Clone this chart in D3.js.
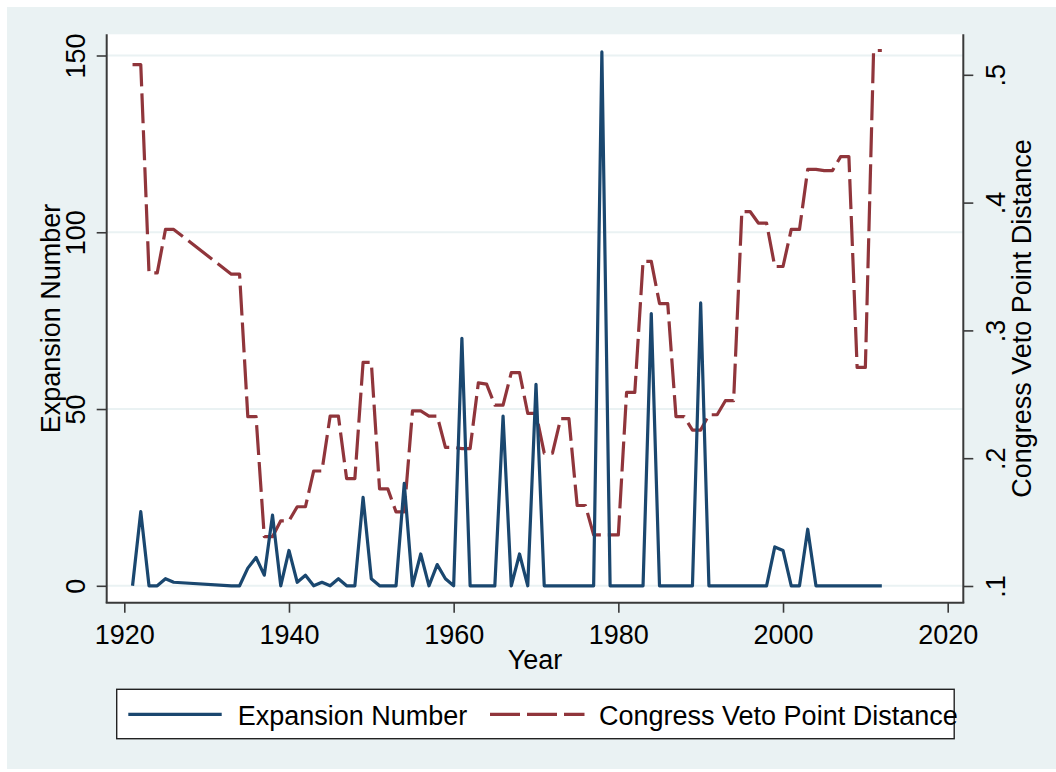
<!DOCTYPE html>
<html>
<head>
<meta charset="utf-8">
<script src="https://cdn.jsdelivr.net/npm/d3@7"></script>
<style>
  body { margin: 0; background: #fff; }
  svg text { font-family: "Liberation Sans", Arial, sans-serif; font-size: 27px; fill: #000; }
</style>
</head>
<body>
<div class="chart"></div>
<script>
// Data
const years = [1921, 1922, 1923, 1924, 1925, 1926,
  1933, 1934, 1935, 1936, 1937, 1938, 1939, 1940,
  1941, 1942, 1943, 1944, 1945, 1946, 1947, 1948, 1949, 1950,
  1951, 1952, 1953, 1954, 1955, 1956, 1957, 1958, 1959, 1960,
  1961, 1962, 1963, 1964, 1965, 1966, 1967, 1968, 1969, 1970,
  1971, 1972, 1973, 1974, 1975, 1976, 1977, 1978, 1979, 1980,
  1981, 1982, 1983, 1984, 1985, 1986, 1987, 1988, 1989, 1990,
  1991, 1992, 1993, 1994, 1995, 1996, 1997, 1998, 1999, 2000,
  2001, 2002, 2003, 2004, 2005, 2006, 2007, 2008, 2009, 2010,
  2011, 2012];

const expansionNumber = [0, 21, 0, 0, 2, 1,
  0, 0, 5, 8, 3, 20, 0, 10,
  1, 3, 0, 1, 0, 2, 0, 0, 25, 2,
  0, 0, 0, 29, 0, 9, 0, 6, 2, 0,
  70, 0, 0, 0, 0, 48, 0, 9, 0, 57,
  0, 0, 0, 0, 0, 0, 0, 151, 0, 0,
  0, 0, 0, 77, 0, 0, 0, 0, 0, 80,
  0, 0, 0, 0, 0, 0, 0, 0, 11, 10,
  0, 0, 16, 0, 0, 0, 0, 0, 0, 0,
  0, 0];

const vetoDistance = [.508, .508, .345, .345, .379, .379,
  .344, .344, .2325, .2325, .1386, .1386, .151, .151,
  .162, .162, .190, .190, .233, .233, .184, .184, .275, .275,
  .176, .176, .158, .158, .237, .237, .233, .233, .2085, .2085,
  .2075, .2075, .259, .258, .2415, .2415, .267, .267, .235, .235,
  .204, .204, .231, .231, .163, .163, .140, .140, .140, .140,
  .2515, .2515, .354, .354, .321, .321, .2325, .2325, .222, .222,
  .234, .234, .245, .245, .393, .393, .384, .384, .350, .350,
  .379, .379, .426, .426, .425, .425, .436, .436, .271, .271,
  .519, .519];

const xTicks = [1920, 1940, 1960, 1980, 2000, 2020];
const leftTicks = [0, 50, 100, 150];
const rightTicks = [.1, .2, .3, .4, .5];
const seriesNames = ["Expansion Number", "Congress Veto Point Distance"];

// Layout
const width = 1056, height = 772;
const plot = {left: 106.7, right: 963.3, top: 34.3, bottom: 602.7};
const blue = "#1a476f", red = "#90353b", bg = "#eaf2f3", axisColor = "#3a3a3a";
const lineWidth = 3.2;
const dash = "30,7";

const svg = d3.select(".chart").append("svg")
  .attr("width", width)
  .attr("height", height);

svg.append("rect")
  .attr("x", 7).attr("y", 7)
  .attr("width", width - 7).attr("height", height - 10)
  .attr("fill", bg);

svg.append("rect")
  .attr("x", plot.left).attr("y", plot.top)
  .attr("width", plot.right - plot.left).attr("height", plot.bottom - plot.top)
  .attr("fill", "#fff");

// Scales
const xScale = d3.scaleLinear().domain([1920, 2020]).range([124.3, 947.7]);
const yLeft = d3.scaleLinear().domain([0, 150]).range([585.8, 55.5]);
const yRight = d3.scaleLinear().domain([.1, .5]).range([586, 74.8]);

function placed(x, y, rot) {
  return `translate(${x},${y})` + (rot ? ` rotate(${rot})` : "");
}

// Gridlines
svg.append("g").selectAll("line").data(leftTicks).enter()
  .append("line")
  .attr("x1", plot.left).attr("x2", plot.right)
  .attr("y1", d => yLeft(d)).attr("y2", d => yLeft(d))
  .attr("stroke", bg)
  .attr("stroke-width", 2);

// Series
const data = years.map((yr, i) => ({year: yr, exp: expansionNumber[i], veto: vetoDistance[i]}));

const lineExp = d3.line().x(d => xScale(d.year)).y(d => yLeft(d.exp));
const lineVeto = d3.line().x(d => xScale(d.year)).y(d => yRight(d.veto));

svg.append("path")
  .datum(data)
  .attr("d", lineVeto)
  .attr("fill", "none")
  .attr("stroke", red)
  .attr("stroke-width", lineWidth)
  .attr("stroke-linejoin", "round")
  .attr("stroke-dasharray", dash);

svg.append("path")
  .datum(data)
  .attr("d", lineExp)
  .attr("fill", "none")
  .attr("stroke", blue)
  .attr("stroke-width", lineWidth)
  .attr("stroke-linejoin", "round");

// Axes
function styleAxis(g) {
  g.select(".domain").remove();
  g.selectAll(".tick line").attr("stroke", axisColor).attr("stroke-width", 1.6);
  g.selectAll(".tick text").attr("x", null).attr("y", null).attr("dy", null)
    .attr("text-anchor", "middle")
    .attr("font-size", null).attr("font-family", null).attr("fill", "#000");
}

const gx = svg.append("g")
  .attr("transform", `translate(0,${plot.bottom})`)
  .call(d3.axisBottom(xScale).tickValues(xTicks).tickSize(10).tickSizeOuter(0).tickFormat(d3.format("d")))
  .call(styleAxis);
gx.selectAll(".tick text").attr("transform", placed(0, 644 - plot.bottom));

const gl = svg.append("g")
  .attr("transform", `translate(${plot.left},0)`)
  .call(d3.axisLeft(yLeft).tickValues(leftTicks).tickSize(10).tickSizeOuter(0))
  .call(styleAxis);
gl.selectAll(".tick text").attr("transform", placed(85 - plot.left, 0, -90));

const gr = svg.append("g")
  .attr("transform", `translate(${plot.right},0)`)
  .call(d3.axisRight(yRight).tickValues(rightTicks).tickSize(10).tickSizeOuter(0)
    .tickFormat(d => d3.format(".1f")(d).replace(/^0/, "")))
  .call(styleAxis);
gr.selectAll(".tick text").attr("transform", placed(1005 - plot.right, 0, -90));

// Axis lines spanning the plot region
svg.append("line")
  .attr("x1", plot.left).attr("x2", plot.left)
  .attr("y1", plot.top).attr("y2", plot.bottom)
  .attr("stroke", axisColor).attr("stroke-width", 2);
svg.append("line")
  .attr("x1", plot.right).attr("x2", plot.right)
  .attr("y1", plot.top).attr("y2", plot.bottom)
  .attr("stroke", axisColor).attr("stroke-width", 2);
svg.append("line")
  .attr("x1", plot.left - 1).attr("x2", plot.right + 1)
  .attr("y1", plot.bottom).attr("y2", plot.bottom)
  .attr("stroke", axisColor).attr("stroke-width", 2);

// Axis titles
const midY = (plot.top + plot.bottom) / 2;
svg.append("text")
  .attr("text-anchor", "middle")
  .attr("transform", placed((plot.left + plot.right) / 2, 668.5))
  .text("Year");
svg.append("text")
  .attr("text-anchor", "middle")
  .attr("transform", placed(59.5, midY, -90))
  .text(seriesNames[0]);
svg.append("text")
  .attr("text-anchor", "middle")
  .attr("transform", placed(1030.5, midY, -90))
  .text(seriesNames[1]);

// Legend
const legend = svg.append("g");
legend.append("rect")
  .attr("x", 116.7).attr("y", 689.3)
  .attr("width", 954.2 - 116.7).attr("height", 738.7 - 689.3)
  .attr("fill", "#fff")
  .attr("stroke", "#222")
  .attr("stroke-width", 1.4);

const legendItems = [
  {name: seriesNames[0], color: blue, dash: null, x1: 128.3, x2: 221.7, tx: 237.7},
  {name: seriesNames[1], color: red, dash: dash, x1: 490, x2: 584.5, tx: 599}
];
legendItems.forEach(item => {
  legend.append("line")
    .attr("x1", item.x1).attr("x2", item.x2)
    .attr("y1", 714.3).attr("y2", 714.3)
    .attr("stroke", item.color)
    .attr("stroke-width", lineWidth)
    .attr("stroke-dasharray", item.dash);
  legend.append("text")
    .attr("transform", placed(item.tx, 725))
    .text(item.name);
});
</script>
</body>
</html>
